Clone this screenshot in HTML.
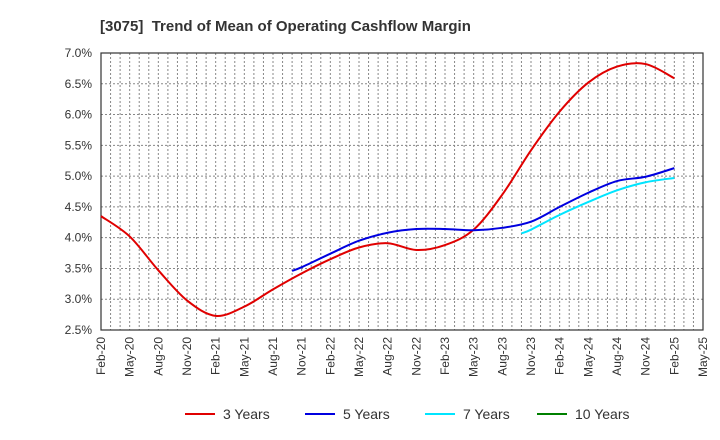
<!DOCTYPE html>
<html><head><meta charset="utf-8"><style>
body{margin:0;background:#fff;font-family:"Liberation Sans",sans-serif;}
svg{display:block}
</style></head><body>
<svg id="chart" width="720" height="440" xmlns="http://www.w3.org/2000/svg">
<text x="100" y="31" font-size="15" font-weight="bold" fill="#333" xml:space="preserve">[3075]  Trend of Mean of Operating Cashflow Margin</text>
<g id="grid"></g><g id="axes"></g><g id="series"></g><g id="legend"></g>
</svg>
<script>
const tickLabels=["Feb-20","May-20","Aug-20","Nov-20","Feb-21","May-21","Aug-21","Nov-21","Feb-22","May-22","Aug-22","Nov-22","Feb-23","May-23","Aug-23","Nov-23","Feb-24","May-24","Aug-24","Nov-24","Feb-25","May-25"];
const yTicks=[2.5,3.0,3.5,4.0,4.5,5.0,5.5,6.0,6.5,7.0];
// months since Feb-20
const months3=[0,3,6,9,12,15,18,21,24,27,30,33,36,39,42,45,48,51,54,57,60];
const vals3=[4.35,4.02,3.47,2.98,2.73,2.88,3.16,3.42,3.65,3.84,3.91,3.80,3.88,4.13,4.70,5.42,6.05,6.52,6.78,6.82,6.59];
const months5=[20,21,24,27,30,33,36,39,42,45,48,51,54,57,60];
const vals5=[3.46,3.52,3.74,3.95,4.08,4.14,4.14,4.12,4.16,4.26,4.50,4.73,4.92,4.99,5.13];
const months7=[44,45,48,51,54,57,60];
const vals7=[4.07,4.13,4.37,4.58,4.77,4.90,4.97];
const months10=[];
const vals10=[];
const X0=101,X1=703,Y0=330,Y1=53,totalMonths=63;
const xs=m=>X0+m*(X1-X0)/totalMonths;
const ys=v=>Y0-(v-2.5)*(Y0-Y1)/4.5;
const NS="http://www.w3.org/2000/svg";
function mk(tag,attrs,parent){const e=document.createElementNS(NS,tag);for(const k in attrs)e.setAttribute(k,attrs[k]);parent.appendChild(e);return e;}
const grid=document.getElementById('grid'),axes=document.getElementById('axes'),ser=document.getElementById('series'),leg=document.getElementById('legend');
for(let m=1;m<totalMonths;m++){const l=mk('line',{x1:xs(m),x2:xs(m),y1:Y1,y2:Y0,stroke:'#888','stroke-width':1,'stroke-dasharray':'2,2'},grid);

}
yTicks.forEach(v=>{if(v>2.5&&v<7.0){const l=mk('line',{x1:X0,x2:X1,y1:ys(v),y2:ys(v),stroke:'#888','stroke-width':1,'stroke-dasharray':'2,2'},grid);

}
const t=mk('text',{x:92,y:ys(v)+4,'text-anchor':'end','font-size':12,fill:'#333'},axes);t.textContent=v.toFixed(1)+'%';

});
tickLabels.forEach((s,i)=>{const x=xs(i*3);const t=mk('text',{transform:`translate(${x+4},337) rotate(-90)`,'text-anchor':'end','font-size':12,fill:'#333'},axes);t.textContent=s;

});
const fr=mk('rect',{x:X0,y:Y1,width:X1-X0,height:Y0-Y1,fill:'none',stroke:'#333','stroke-width':1.2},axes);


function path(ms,vs){const p=ms.map((m,i)=>[xs(m),ys(vs[i])]);if(!p.length)return'';let d=`M${p[0][0]},${p[0][1]}`;
for(let i=0;i<p.length-1;i++){const a=p[Math.max(i-1,0)],b=p[i],c=p[i+1],e=p[Math.min(i+2,p.length-1)];
d+=` C${b[0]+(c[0]-a[0])/6},${b[1]+(c[1]-a[1])/6} ${c[0]-(e[0]-b[0])/6},${c[1]-(e[1]-b[1])/6} ${c[0]},${c[1]}`;}return d;}
[[months3,vals3,'#e00000','line-3-years'],[months5,vals5,'#0000e0','line-5-years'],[months7,vals7,'#00e5ff','line-7-years'],[months10,vals10,'#008000','line-10-years']].forEach(s=>{
if(!s[0].length)return;const p=mk('path',{d:path(s[0],s[1]),fill:'none',stroke:s[2],'stroke-width':2},ser);

});
[['3 Years','#e00000',185],['5 Years','#0000e0',305],['7 Years','#00e5ff',425],['10 Years','#008000',537]].forEach(l=>{
const g=mk('g',{},leg);


mk('line',{x1:l[2],x2:l[2]+30,y1:414,y2:414,stroke:l[1],'stroke-width':2},g);
const t=mk('text',{x:l[2]+38,y:419,'font-size':14,fill:'#333'},g);t.textContent=l[0];});
</script>
</body></html>
